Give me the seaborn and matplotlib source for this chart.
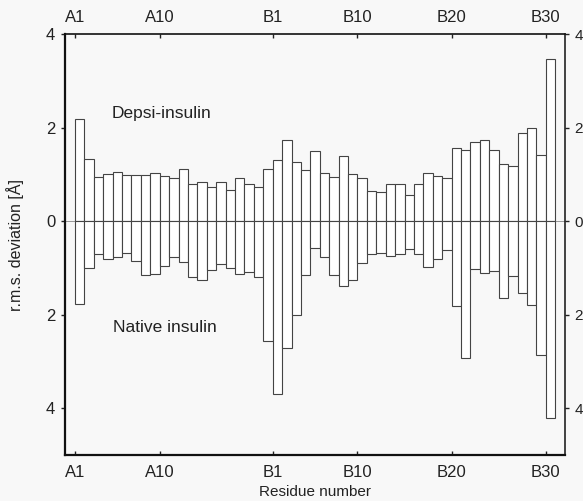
import numpy as np
import matplotlib
matplotlib.use("Agg")
import matplotlib.pyplot as plt
import seaborn as sns
import pandas as pd

# residue labels: A chain 1-21, B chain 1-30
residues = [f"A{i}" for i in range(1, 22)] + [f"B{i}" for i in range(1, 31)]

# r.m.s. deviation (Angstrom)
depsi = [2.19, 1.33, 0.95, 1.02, 1.06, 0.98, 0.98, 0.99, 1.03, 0.97,
         0.92, 1.11, 0.80, 0.83, 0.74, 0.84, 0.67, 0.92, 0.80, 0.73,
         1.11, 1.30, 1.74, 1.26, 1.10, 1.51, 1.04, 0.94, 1.40, 1.02,
         0.93, 0.64, 0.62, 0.79, 0.79, 0.56, 0.79, 1.03, 0.96, 0.92,
         1.57, 1.52, 1.70, 1.73, 1.52, 1.22, 1.18, 1.88, 1.99, 1.41,
         3.48]
native = [1.78, 0.99, 0.70, 0.80, 0.77, 0.67, 0.84, 1.15, 1.13, 0.96,
          0.77, 0.88, 1.20, 1.26, 1.05, 0.92, 1.00, 1.13, 1.09, 1.19,
          2.57, 3.70, 2.72, 2.01, 1.16, 0.58, 0.77, 1.14, 1.38, 1.25,
          0.89, 0.71, 0.69, 0.74, 0.71, 0.59, 0.70, 0.97, 0.81, 0.62,
          1.82, 2.93, 1.03, 1.10, 1.07, 1.64, 1.18, 1.53, 1.79, 2.86,
          4.20]

tick_res = ["A1", "A10", "B1", "B10", "B20", "B30"]

df = pd.DataFrame({"residue": residues, "depsi": depsi,
                   "native": -np.array(native)})

sns.set_style("white")
plt.rcParams['font.family'] = ['Liberation Sans', 'DejaVu Sans']

fig = plt.figure(figsize=(5.83, 5.01), dpi=100, facecolor="#f8f8f8")
ax = fig.add_axes([0.1115, 0.092, 0.857, 0.8395])
ax.set_facecolor("#f8f8f8")

ax.axhline(0, color="#888888", lw=0.6, zorder=1)
for col in ["depsi", "native"]:
    sns.barplot(data=df, x="residue", y=col, order=residues, color="white",
                edgecolor="#444444", linewidth=0.8, width=1.0,
                saturation=1, ax=ax, zorder=2)

ax.set_xlim(-1.56, 51.5)
ax.set_ylim(-5, 4)

# ticks sit on the left edge of each labelled residue bar
pos = [residues.index(r) - 0.5 for r in tick_res]
ax.set_xticks(pos)
ax.set_xticklabels(tick_res)
ax.set_yticks([4, 2, 0, -2, -4])
ax.set_yticklabels(["4", "2", "0", "2", "4"])

ax.tick_params(axis="x", direction="in", length=3, width=1, top=True,
               labeltop=True, bottom=True, labelsize=12, pad=7, colors="#222222")
ax.tick_params(axis="y", direction="out", length=3, width=1, left=True,
               right=True, labelright=True, labelsize=12, pad=4, colors="#222222")
for t in ax.yaxis.get_major_ticks():
    t.label2.set_fontsize(11)

ax.spines["left"].set_linewidth(1.6)
ax.spines["bottom"].set_linewidth(1.6)
ax.spines["top"].set_linewidth(1.2)
ax.spines["right"].set_linewidth(1.1)
for s in ax.spines.values():
    s.set_visible(True)
    s.set_color("#111111")

ax.set_xlabel("Residue number", fontsize=11, labelpad=4, color="#222222")
ax.set_ylabel("r.m.s. deviation [Å]", fontsize=11.5, labelpad=16, color="#222222")

ax.text(3.4, 2.31, "Depsi-insulin", fontsize=12.5, va="center", ha="left",
        color="#222222")
ax.text(3.5, -2.28, "Native insulin", fontsize=12.5, va="center", ha="left",
        color="#222222")

plt.savefig("out.png", dpi=100, facecolor=fig.get_facecolor())
